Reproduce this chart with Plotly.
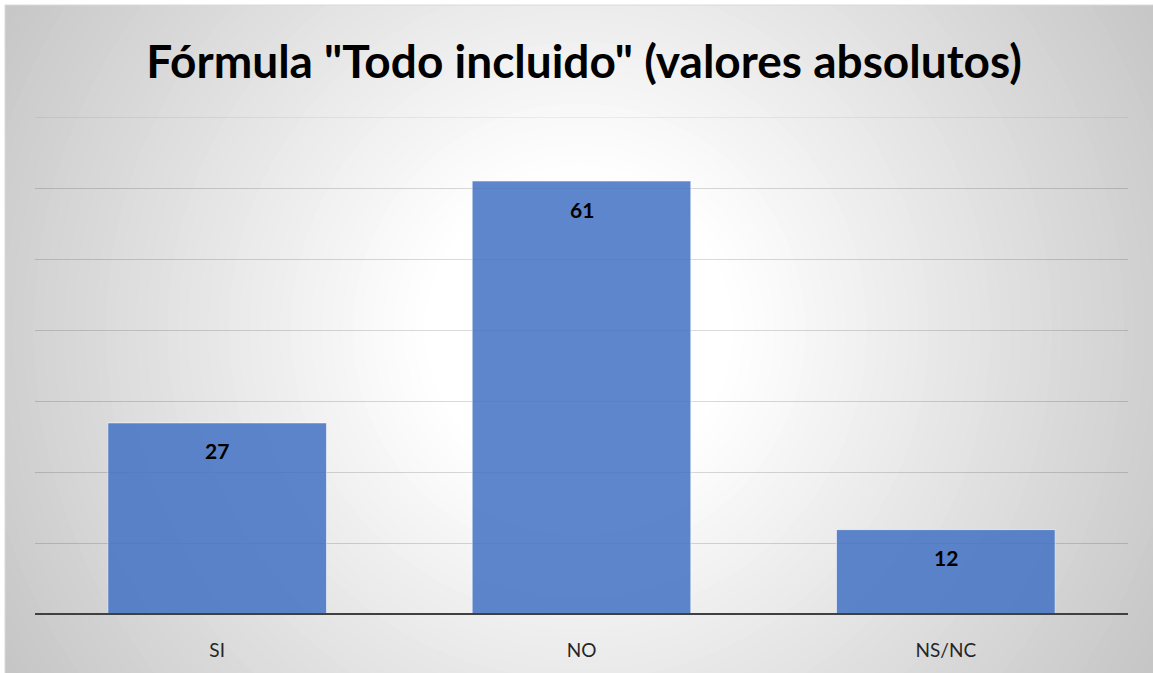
import plotly.graph_objects as go

categories = ["SI", "NO", "NS/NC"]
values = [27, 61, 12]
title_text = 'Fórmula "Todo incluido" (valores absolutos)'

W, H = 1153, 673
EXTRA = 16  # extra canvas beyond the window so the background fills it fully
L, R, T, B = 35, 25, 117, 58
PW, PH = W - L - R, H - T - B

def px_x(p):
    return (p - L) / PW

def px_y(p):
    return (H - B - p) / PH

shapes = []
# radial gradient background (concentric circles, outermost first)
cx, cy = 579, 330
n = 70
rmax = 720
for i in range(n, 0, -1):
    r = rmax * i / n
    if r < 160:
        g = 255
    else:
        g = 255 - 57 * (r - 160) / 505
    g = int(max(192, min(255, round(g))))
    col = f"rgb({g},{g},{g})"
    shapes.append(dict(type="circle", xref="paper", yref="paper",
                       x0=px_x(cx - r), x1=px_x(cx + r),
                       y0=px_y(cy + r), y1=px_y(cy - r),
                       fillcolor=col, line=dict(width=0), layer="below"))
# white outer strips
shapes.append(dict(type="rect", xref="paper", yref="paper",
                   x0=px_x(-10), x1=px_x(5), y0=px_y(H + 30), y1=px_y(-10),
                   fillcolor="white", line=dict(width=0), layer="below"))
shapes.append(dict(type="rect", xref="paper", yref="paper",
                   x0=px_x(-10), x1=px_x(W + 30), y0=px_y(5), y1=px_y(-10),
                   fillcolor="white", line=dict(width=0), layer="below"))
# chart border
shapes.append(dict(type="line", xref="paper", yref="paper",
                   x0=px_x(5), x1=px_x(W + 30), y0=px_y(5), y1=px_y(5),
                   line=dict(color="#d9d9d9", width=1), layer="below"))
shapes.append(dict(type="line", xref="paper", yref="paper",
                   x0=px_x(5), x1=px_x(5), y0=px_y(5), y1=px_y(H + 30),
                   line=dict(color="#d9d9d9", width=1), layer="below"))
# top gridline (at axis edge)
shapes.append(dict(type="line", xref="paper", yref="y",
                   x0=0, x1=1, y0=70, y1=70,
                   line=dict(color="rgba(0,0,0,0.12)", width=1), layer="below"))
# baseline
shapes.append(dict(type="line", xref="paper", yref="y",
                   x0=0, x1=1, y0=0, y1=0,
                   line=dict(color="#404040", width=4), layer="above"))

fig = go.Figure(go.Bar(
    x=categories, y=values, width=0.6,
    marker=dict(color="rgba(68,114,196,0.86)",
                line=dict(color="rgba(255,255,255,0.55)", width=1)),
    hoverinfo="skip",
))

annotations = [dict(x=c, y=v, xref="x", yref="y", text=f"<b>{v}</b>",
                    showarrow=False, yanchor="middle", yshift=-28,
                    font=dict(family="Lato", size=21, color="black"))
               for c, v in zip(categories, values)]

fig.update_layout(
    width=W + EXTRA, height=H + EXTRA,
    margin=dict(l=L, r=R + EXTRA, t=T, b=B + EXTRA),
    paper_bgcolor="rgb(200,200,200)",
    plot_bgcolor="rgba(0,0,0,0)",
    shapes=shapes,
    annotations=annotations,
    showlegend=False,
    bargap=0.4,
    title=dict(text=f"<b>{title_text}</b>", x=0, xref="paper",
               xanchor="center", y=1 - 62 / (H + EXTRA), yanchor="middle",
               font=dict(family="Lato", size=46, color="black")),
    xaxis=dict(showgrid=False, zeroline=False, showline=False, ticks="",
               tickfont=dict(family="Lato", size=19, color="#262626"),
               ticklabelstandoff=22),
    yaxis=dict(range=[0, 70], dtick=10, showticklabels=False,
               showgrid=True, gridcolor="rgba(0,0,0,0.15)", gridwidth=1,
               zeroline=False, showline=False, ticks=""),
)
fig.update_layout(title_x=px_x(584))

fig.write_html("out.html", config=dict(displayModeBar=False),
               post_script="document.body.style.margin='0';"
                           "document.body.style.overflow='hidden';")
